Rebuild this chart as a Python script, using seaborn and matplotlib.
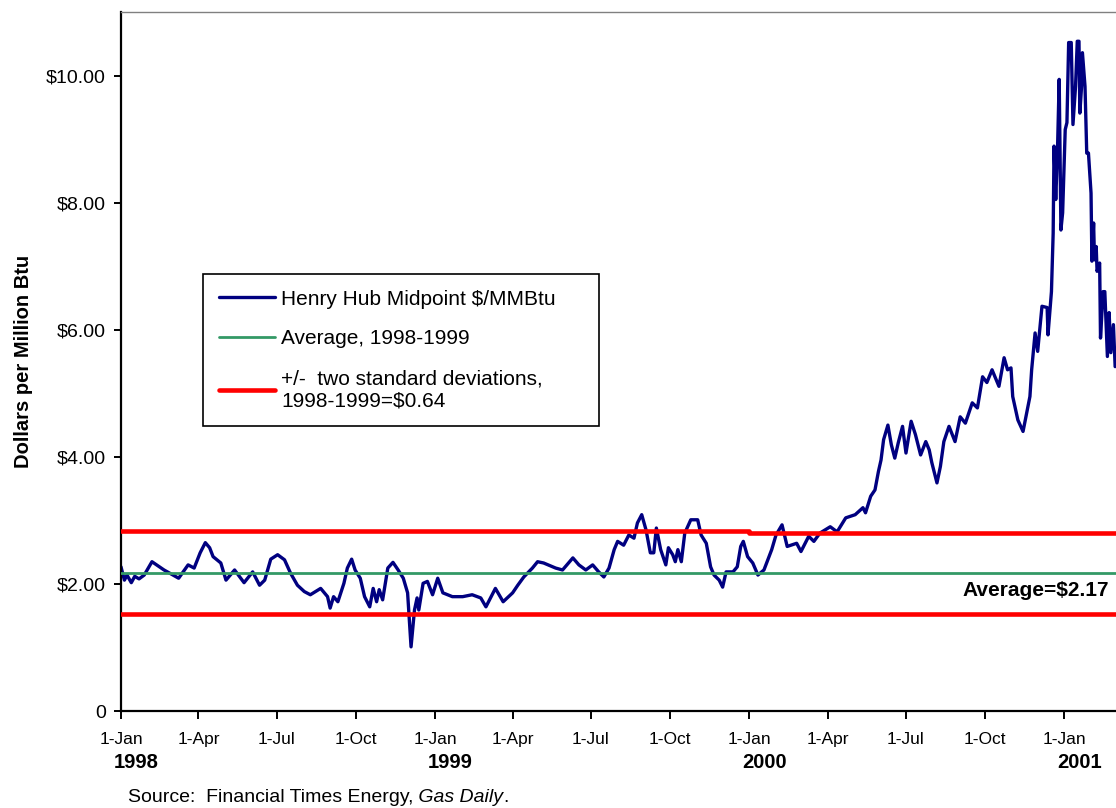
import pandas as pd
import matplotlib
matplotlib.use('Agg')
import matplotlib.pyplot as plt
import matplotlib.dates as mdates
from matplotlib.ticker import FuncFormatter
import seaborn as sns

# Henry Hub midpoint prices, $/MMBtu
price_dates = [
    '1998-01-01', '1998-01-05', '1998-01-08', '1998-01-13', '1998-01-17', '1998-01-22',
    '1998-01-28', '1998-02-06', '1998-02-20',
    '1998-03-09', '1998-03-20', '1998-03-27', '1998-04-03', '1998-04-09', '1998-04-14',
    '1998-04-18', '1998-04-27', '1998-05-03', '1998-05-13', '1998-05-24', '1998-06-03',
    '1998-06-11', '1998-06-17', '1998-06-24', '1998-07-02', '1998-07-10', '1998-07-17',
    '1998-07-25', '1998-08-02', '1998-08-09', '1998-08-21', '1998-08-29', '1998-09-01',
    '1998-09-05', '1998-09-10', '1998-09-17', '1998-09-21', '1998-09-26', '1998-09-30',
    '1998-10-06', '1998-10-11', '1998-10-17', '1998-10-21', '1998-10-25', '1998-10-28',
    '1998-11-01', '1998-11-07', '1998-11-13', '1998-11-19', '1998-11-25', '1998-11-30',
    '1998-12-04', '1998-12-08', '1998-12-11', '1998-12-13', '1998-12-18', '1998-12-23',
    '1998-12-29',
    '1999-01-04', '1999-01-10', '1999-01-21', '1999-02-02', '1999-02-13', '1999-02-23',
    '1999-03-01', '1999-03-12', '1999-03-21', '1999-04-01', '1999-04-07', '1999-04-14',
    '1999-04-24', '1999-04-30', '1999-05-07', '1999-05-21', '1999-05-29', '1999-06-10',
    '1999-06-17', '1999-06-25', '1999-07-03', '1999-07-10', '1999-07-16', '1999-07-22',
    '1999-07-28', '1999-08-01', '1999-08-08', '1999-08-14', '1999-08-20', '1999-08-24',
    '1999-08-29', '1999-09-03', '1999-09-08', '1999-09-12', '1999-09-15', '1999-09-20',
    '1999-09-26', '1999-09-29', '1999-10-04', '1999-10-07', '1999-10-10', '1999-10-14',
    '1999-10-18', '1999-10-25', '1999-11-02', '1999-11-06', '1999-11-12', '1999-11-17',
    '1999-11-21', '1999-11-27', '1999-12-01', '1999-12-05', '1999-12-13', '1999-12-18',
    '1999-12-22', '1999-12-25', '1999-12-30',
    '2000-01-05', '2000-01-11', '2000-01-18', '2000-01-27', '2000-02-01', '2000-02-08',
    '2000-02-14', '2000-02-25', '2000-03-01', '2000-03-10', '2000-03-16', '2000-03-23',
    '2000-04-04', '2000-04-12', '2000-04-22', '2000-05-03', '2000-05-12', '2000-05-15',
    '2000-05-21', '2000-05-26', '2000-05-30', '2000-06-02', '2000-06-05', '2000-06-10',
    '2000-06-14', '2000-06-18', '2000-06-22', '2000-06-27', '2000-07-01', '2000-07-07',
    '2000-07-12', '2000-07-18', '2000-07-24', '2000-07-28', '2000-07-31', '2000-08-06',
    '2000-08-10', '2000-08-14', '2000-08-20', '2000-08-27', '2000-09-02', '2000-09-08',
    '2000-09-16', '2000-09-22', '2000-09-28', '2000-10-03', '2000-10-09', '2000-10-17',
    '2000-10-23', '2000-10-27', '2000-10-31', '2000-11-02', '2000-11-08', '2000-11-14',
    '2000-11-22', '2000-11-24', '2000-11-28', '2000-12-01', '2000-12-06', '2000-12-12',
    '2000-12-13', '2000-12-17', '2000-12-19', '2000-12-20', '2000-12-22', '2000-12-24',
    '2000-12-26', '2000-12-28', '2000-12-30',
    '2001-01-02', '2001-01-04', '2001-01-06', '2001-01-09', '2001-01-11', '2001-01-14',
    '2001-01-16', '2001-01-18', '2001-01-19', '2001-01-21', '2001-01-22', '2001-01-25',
    '2001-01-27', '2001-01-29', '2001-02-01', '2001-02-02', '2001-02-04', '2001-02-05',
    '2001-02-07', '2001-02-08', '2001-02-11', '2001-02-12', '2001-02-15', '2001-02-17',
    '2001-02-20', '2001-02-22', '2001-02-24', '2001-02-27', '2001-03-01',
]
henry_hub_prices = [
    2.27, 2.06, 2.14, 2.02, 2.12, 2.08,
    2.14, 2.35, 2.22,
    2.09, 2.30, 2.25, 2.49, 2.65, 2.57,
    2.43, 2.33, 2.06, 2.22, 2.02, 2.19,
    1.98, 2.06, 2.39, 2.46, 2.38, 2.17,
    1.98, 1.88, 1.83, 1.93, 1.80, 1.62,
    1.80, 1.72, 2.01, 2.25, 2.39, 2.22,
    2.09, 1.80, 1.64, 1.93, 1.72, 1.91,
    1.75, 2.25, 2.34, 2.22, 2.09, 1.86,
    1.01, 1.59, 1.78, 1.59, 2.01, 2.04,
    1.83,
    2.09, 1.86, 1.80, 1.80, 1.83, 1.78,
    1.64, 1.93, 1.72, 1.86, 1.98, 2.11,
    2.25, 2.35, 2.33, 2.25, 2.22, 2.41,
    2.30, 2.22, 2.30, 2.19, 2.11, 2.25,
    2.54, 2.67, 2.61, 2.77, 2.72, 2.96,
    3.09, 2.85, 2.49, 2.49, 2.88, 2.54,
    2.30, 2.57, 2.46, 2.35, 2.54, 2.35,
    2.80, 3.01, 3.01, 2.77, 2.64, 2.27,
    2.14, 2.06, 1.95, 2.19, 2.19, 2.27,
    2.59, 2.67, 2.43,
    2.33, 2.14, 2.22, 2.54, 2.77, 2.93,
    2.59, 2.64, 2.51, 2.75, 2.67, 2.80,
    2.90, 2.82, 3.04, 3.09, 3.20, 3.12,
    3.38, 3.48, 3.77, 3.95, 4.27, 4.50,
    4.19, 3.98, 4.22, 4.48, 4.06, 4.56,
    4.35, 4.03, 4.24, 4.11, 3.91, 3.59,
    3.85, 4.24, 4.48, 4.24, 4.63, 4.53,
    4.85, 4.77, 5.26, 5.17, 5.37, 5.11,
    5.56, 5.37, 5.40, 4.95, 4.58, 4.40,
    4.95, 5.37, 5.95, 5.66, 6.37, 6.35,
    5.92, 6.60, 7.52, 8.89, 8.05, 8.81,
    9.94, 7.57, 7.84,
    9.15, 9.26, 10.52, 10.52, 9.23, 9.83,
    10.54, 10.54, 9.41, 9.83, 10.36, 9.83,
    8.78, 8.78, 8.15, 7.08, 7.68, 7.10,
    7.31, 6.92, 7.05, 5.87, 6.60, 6.60,
    5.58, 6.27, 5.64, 6.08, 5.42,
]

# 1998-1999 average and +/- two standard deviation band
avg_price = 2.17
band_dates = ['1998-01-01', '2000-01-01', '2001-03-02']
upper_band = [2.83, 2.80, 2.80]
lower_band = [1.53, 1.53, 1.53]

series_labels = [
    'Henry Hub Midpoint $/MMBtu',
    'Average, 1998-1999',
    '+/-  two standard deviations,\n1998-1999=$0.64',
]

ytick_values = [0, 2, 4, 6, 8, 10]
ytick_labels = ['0', '$2.00', '$4.00', '$6.00', '$8.00', '$10.00']
year_labels = ['1998', '1999', '2000', '2001']
year_dates = ['1998-01-01', '1999-01-01', '2000-01-01', '2001-01-01']

BLUE = '#000080'
GREEN = '#339966'
RED = '#FF0000'


# Function to draw price series, average and band lines
def plot_prices(ax):
    df = pd.DataFrame({'date': pd.to_datetime(price_dates), 'price': henry_hub_prices})
    sns.lineplot(data=df, x='date', y='price', color=BLUE, linewidth=2.4,
                 label=series_labels[0], ax=ax, zorder=2)
    ax.axhline(avg_price, color=GREEN, linewidth=2.0, label=series_labels[1], zorder=3)
    bands = pd.to_datetime(band_dates)
    ax.plot(bands, upper_band, color=RED, linewidth=3.3, drawstyle='steps-post',
            label=series_labels[2], zorder=4)
    ax.plot(bands, lower_band, color=RED, linewidth=3.3, drawstyle='steps-post', zorder=4)


# Function to style axes, ticks and labels
def style_axes(ax):
    ax.set_xlim(pd.Timestamp('1998-01-01'), pd.Timestamp('2001-03-02'))
    ax.set_ylim(0, 11)

    ax.set_yticks(ytick_values)
    ax.set_yticklabels(ytick_labels, fontsize=14)
    ax.tick_params(axis='y', length=5, width=1.4, pad=6, colors='black')

    ax.xaxis.set_major_locator(mdates.MonthLocator(bymonth=[1, 4, 7, 10]))
    ax.xaxis.set_major_formatter(FuncFormatter(
        lambda v, pos: '1-' + mdates.num2date(v).strftime('%b')))
    ax.tick_params(axis='x', length=6, width=1.4, pad=9, labelsize=12.5, colors='black')

    for side in ['left', 'bottom']:
        ax.spines[side].set_color('black')
        ax.spines[side].set_linewidth(1.6)
    ax.spines['top'].set_color('#808080')
    ax.spines['top'].set_linewidth(1.0)
    ax.spines['right'].set_visible(False)

    ax.set_xlabel('')
    ax.set_ylabel('Dollars per Million Btu', fontsize=14.5, fontweight='bold', color='black')
    ax.yaxis.set_label_coords(-0.088, 0.5)

    # year labels under the 1-Jan ticks
    for year, date in zip(year_labels, year_dates):
        ax.annotate(year, xy=(pd.Timestamp(date), 0), xycoords=('data', 'axes fraction'),
                    xytext=(-5, -37), textcoords='offset points', ha='left', va='center',
                    fontsize=14.5, fontweight='bold', color='black', annotation_clip=False)

    ax.text(0.993, 1.9, f'Average=${avg_price:.2f}', transform=ax.get_yaxis_transform(),
            ha='right', va='center', fontsize=15, fontweight='bold', color='black')


def add_legend(ax):
    handles, labels = ax.get_legend_handles_labels()
    leg = ax.legend(handles, labels, loc='upper left',
                    bbox_to_anchor=(0.0824, 0.0, 0.398, 0.6252), mode='expand',
                    borderaxespad=0, fontsize=15, frameon=True, fancybox=False,
                    framealpha=1, edgecolor='black', handlelength=2.7,
                    handletextpad=0.3, borderpad=0.75, labelspacing=1.0)
    leg.get_frame().set_linewidth(1.2)
    for text in leg.get_texts():
        text.set_color('black')


def add_source(fig):
    t1 = fig.text(0.1147, 0.0075, 'Source:  Financial Times Energy,', fontsize=14,
                  va='baseline', ha='left', color='black')
    t2 = plt.annotate(' Gas Daily', xy=(1, 0), xycoords=t1, va='bottom', ha='left',
                      fontsize=14, style='italic', color='black')
    plt.annotate('.', xy=(1, 0), xycoords=t2, va='bottom', ha='left', fontsize=14,
                 color='black')


def main():
    sns.set_style('ticks')
    plt.rcParams['font.family'] = ['Liberation Sans', 'DejaVu Sans']
    plt.rcParams['text.color'] = 'black'
    plt.rcParams['axes.labelcolor'] = 'black'

    fig, ax = plt.subplots(figsize=(11.16, 8.08), dpi=100)
    fig.subplots_adjust(left=0.1084, right=1.0, bottom=0.12, top=0.9851)

    plot_prices(ax)
    style_axes(ax)
    add_legend(ax)
    add_source(fig)

    fig.savefig('out.png', dpi=100)


if __name__ == "__main__":
    main()
